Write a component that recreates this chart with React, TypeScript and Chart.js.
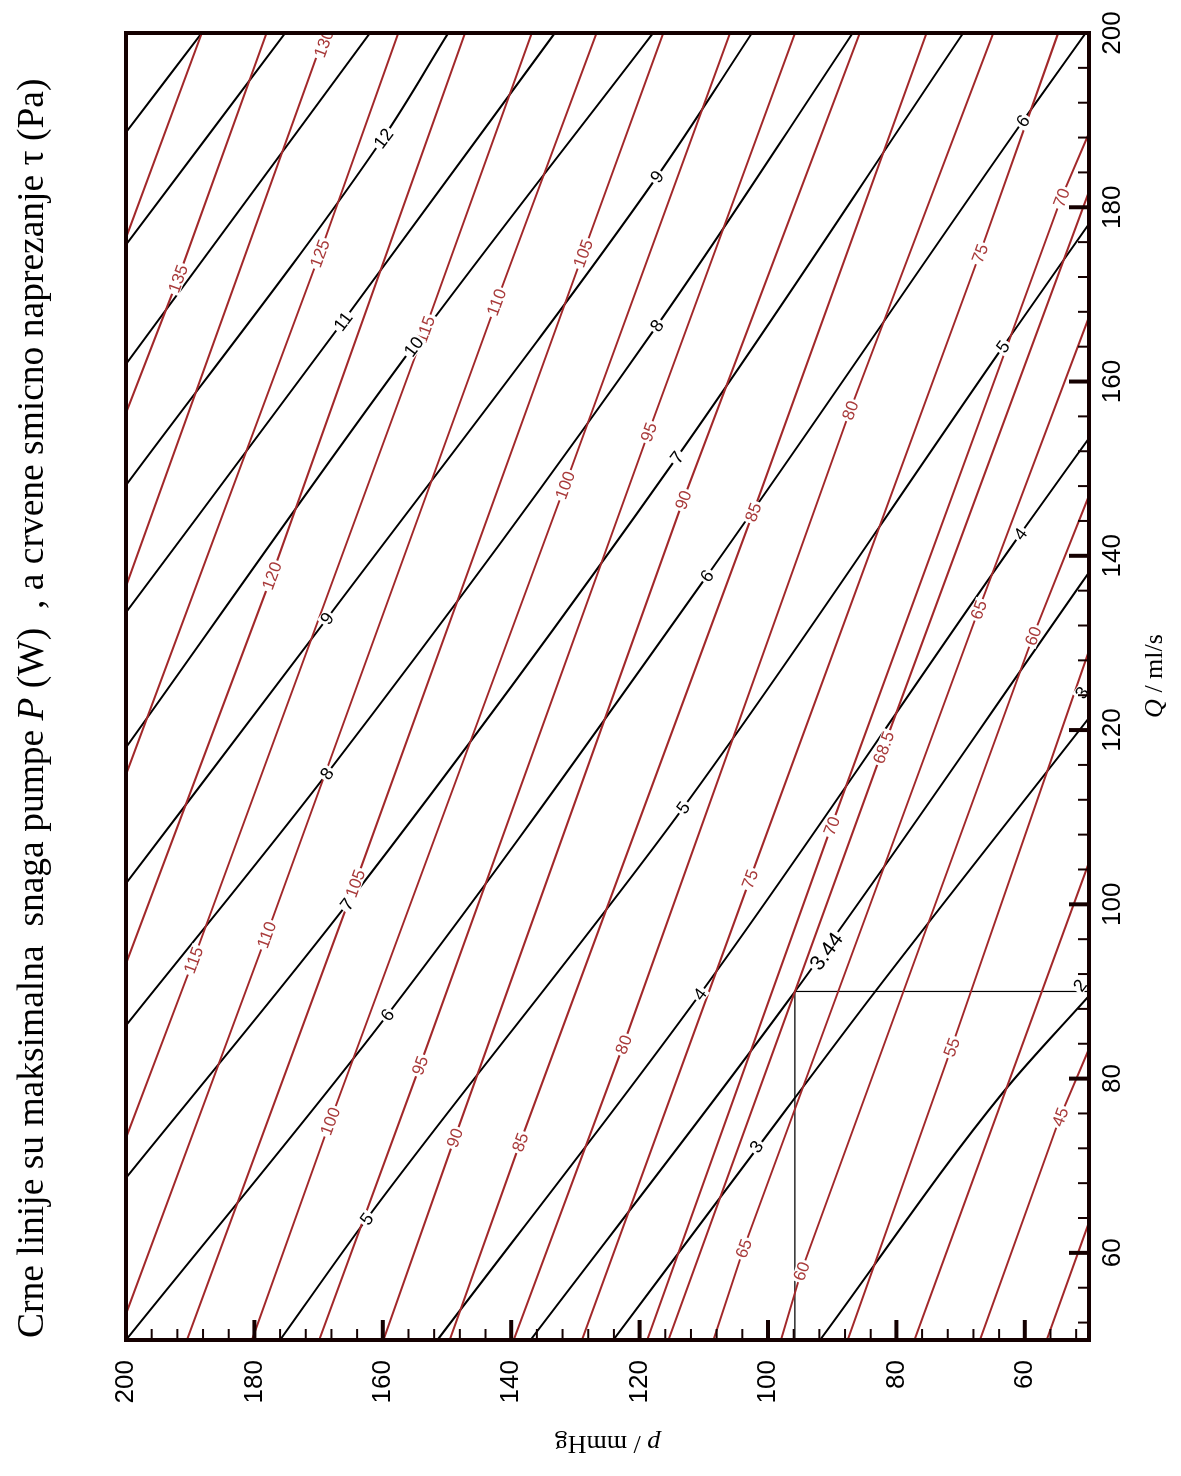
import React, { useEffect, useRef } from "react";
import { Chart, registerables } from "chart.js";

Chart.register(...registerables);

// Axis ticks (Q in ml/s on x, p in mmHg on y of the unrotated chart)
const qTicks = [60, 80, 100, 120, 140, 160, 180, 200];
const pTicks = [60, 80, 100, 120, 140, 160, 180, 200];
const minorTicks = [52, 56, 64, 68, 72, 76, 84, 88, 92, 96, 104, 108, 112, 116, 124, 128, 132, 136, 144, 148, 152, 156, 164, 168, 172, 176, 184, 188, 192, 196];

// Black contours: maximal pump power P (W); points are [Q, p]
const powerLevels = ["2", "3", "3.44", "4", "5", "6", "7", "8", "9", "10", "11", "12", "13", "14", "15"];
const powerLines: number[][][] = [
  [[50, 91.9], [78.5, 63.3], [89.5, 50]],
  [[50, 124.1], [72.2, 101.5], [90, 83.3], [121.4, 50]],
  [[50, 137], [90, 95.8], [138.1, 50]],
  [[50, 151.5], [89.7, 110.6], [142.5, 60.7], [153.5, 50]],
  [[50, 176], [63.9, 162.5], [111.1, 113.2], [164, 63.4], [178.1, 50]],
  [[50, 200], [87.3, 159.3], [137.7, 109.5], [189.9, 60.3], [200, 50.5]],
  [[68.6, 200], [100, 165.6], [151.3, 114.2], [200, 69.6]],
  [[86.1, 200], [115, 168.7], [166.4, 117.3], [200, 86.8]],
  [[102.4, 200], [132.8, 168.7], [183.5, 117.3], [200, 102.5]],
  [[118, 200], [164, 155.3], [200, 117.9]],
  [[133.5, 200], [166.9, 166.2], [200, 133.2]],
  [[148.1, 200], [187.9, 160], [200, 149.8]],
  [[162, 200], [200, 162]],
  [[175.7, 200], [200, 175.2]],
  [[188.6, 200], [200, 188.2]],
];

// Red contours: shear stress tau (Pa); points are [Q, p]
const shearLevels = ["40", "45", "50", "55", "60", "65", "68.5", "70", "75", "80", "85", "90", "95", "100", "105", "110", "115", "120", "125", "130", "135", "140"];
const shearLines: number[][][] = [
  [[50, 56.6], [63.5, 50]],
  [[50, 67.0], [75.6, 54.5], [83.4, 50]],
  [[50, 77.2], [104.8, 50]],
  [[50, 87.6], [83.6, 71.4], [129.1, 50]],
  [[50, 98.0], [57.9, 94.8], [130.8, 58.7], [146.9, 50]],
  [[50, 108.5], [60.5, 103.8], [133.8, 67.2], [167.4, 50]],
  [[50, 115.5], [118, 82], [181.8, 50]],
  [[50, 118.8], [109, 90.1], [181.1, 54.3], [188.5, 50]],
  [[50, 129.0], [102.9, 102.8], [174.7, 67], [200, 54.8]],
  [[50, 139.6], [83.9, 122.5], [156.7, 87.2], [200, 64.9]],
  [[50, 149.6], [72.7, 138.6], [145, 102.3], [200, 75.3]],
  [[50, 159.9], [73.2, 148.8], [146.4, 113.2], [200, 85.7]],
  [[50, 169.9], [81.5, 154.2], [154.2, 118.6], [200, 95.8]],
  [[50, 180.4], [75.1, 168.2], [148.1, 131.6], [200, 105.9]],
  [[50, 190.5], [102.4, 164.3], [174.7, 128.8], [200, 116.3]],
  [[53.0, 200], [96.5, 178.1], [169.1, 142.3], [200, 126.7]],
  [[73.2, 200], [93.6, 189.5], [166, 153.4], [200, 136.8]],
  [[93.2, 200], [137.7, 177.3], [200, 147.2]],
  [[114.9, 200], [174.7, 169.8], [200, 157.6]],
  [[136.5, 200], [200, 169]],
  [[156.4, 200], [171.8, 191.9], [200, 178.1]],
  [[176.5, 200], [200, 188.2]],
];

// Contour labels: [text, Q, p]
const powerLabels: [string, number, number][] = [
  ["12", 187.9, 159.9], ["11", 166.9, 166.2], ["10", 164, 155.2],
  ["9", 132.8, 168.7], ["9", 183.5, 117.3], ["8", 115, 168.7], ["8", 166.4, 117.3],
  ["7", 100, 165.6], ["7", 151.3, 114.2], ["6", 87.3, 159.3], ["6", 137.7, 109.5], ["6", 189.9, 60.3],
  ["5", 63.9, 162.5], ["5", 111.1, 113.2], ["5", 164, 63.4], ["4", 89.7, 110.6], ["4", 142.5, 60.7],
  ["3", 72.2, 101.8], ["3", 124.3, 51.1], ["2", 90.7, 51.4],
];
const markedPowerLabel: [string, number, number] = ["3.44", 94.6, 90.9];
const shearLabels: [string, number, number][] = [
  ["135", 171.8, 191.9], ["130", 198.8, 169.2], ["125", 174.7, 169.8], ["120", 137.7, 177.3],
  ["115", 166, 153.4], ["115", 93.6, 189.5], ["110", 169.1, 142.3], ["110", 96.5, 178.1],
  ["105", 174.7, 128.8], ["105", 102.4, 164.3], ["100", 148.1, 131.6], ["100", 75.1, 168.2],
  ["95", 154.2, 118.6], ["95", 81.5, 154.2], ["90", 146.4, 113.2], ["90", 73.2, 148.8],
  ["85", 145, 102.3], ["85", 72.7, 138.6], ["80", 156.7, 87.2], ["80", 83.9, 122.5],
  ["75", 174.7, 67], ["75", 102.9, 102.8], ["70", 181.1, 54.3], ["70", 109, 90.1],
  ["68.5", 118, 82], ["65", 133.8, 67.2], ["65", 60.5, 103.8], ["60", 130.8, 58.7], ["60", 57.9, 94.8],
  ["55", 83.6, 71.4], ["45", 75.6, 54.5],
];

// Operating point drop lines
const markerQ = [50, 90, 90];
const markerP = [95.8, 95.8, 50];

const SANS = '"Liberation Sans", Arial, sans-serif';
const SERIF = '"Liberation Serif", "Times New Roman", serif';
const RED = "#a2282a";
const RED_TEXT = "#a83a3a";

function drawMixed(ctx: CanvasRenderingContext2D, parts: [string, boolean][], x: number, y: number, size: number, align: "left" | "center") {
  const fontOf = (it: boolean) => `${it ? "italic " : ""}${size}px ${SERIF}`;
  let total = 0;
  for (const [t, it] of parts) { ctx.font = fontOf(it); total += ctx.measureText(t).width; }
  let cx = align === "center" ? x - total / 2 : x;
  ctx.textAlign = "left";
  ctx.textBaseline = "alphabetic";
  for (const [t, it] of parts) {
    ctx.font = fontOf(it);
    ctx.fillText(t, cx, y);
    cx += ctx.measureText(t).width;
  }
}

const overlayPlugin = {
  id: "overlay",
  afterDatasetsDraw(chart: any) {
    const { ctx, chartArea: a, scales } = chart;
    const xs = scales.x, ys = scales.y;
    ctx.save();
    ctx.beginPath();
    ctx.rect(a.left, a.top, a.right - a.left, a.bottom - a.top);
    ctx.clip();
    const drawLabel = (text: string, q: number, p: number, slope: number, color: string, size: number) => {
      const px = xs.getPixelForValue(q), py = ys.getPixelForValue(p);
      const dx = xs.getPixelForValue(q + 1) - px;
      const dy = ys.getPixelForValue(p + slope) - py;
      const ang = Math.atan2(dy, dx);
      ctx.save();
      ctx.translate(px, py);
      ctx.rotate(ang);
      ctx.font = `${size}px ${SANS}`;
      const w = ctx.measureText(text).width;
      ctx.fillStyle = "#ffffff";
      ctx.fillRect(-w / 2 - 2, -size * 0.4, w + 4, size * 0.8);
      ctx.fillStyle = color;
      ctx.textAlign = "center";
      ctx.textBaseline = "middle";
      ctx.fillText(text, 0, 1);
      ctx.restore();
    };
    for (const [t, q, p] of shearLabels) drawLabel(t, q, p, -0.5, RED_TEXT, 17);
    for (const [t, q, p] of powerLabels) drawLabel(t, q, p, -1, "#000", 18);
    drawLabel(markedPowerLabel[0], markedPowerLabel[1], markedPowerLabel[2], -1, "#000", 21);
    ctx.restore();
  },
  afterDraw(chart: any) {
    const { ctx, chartArea: a, scales } = chart;
    const xs = scales.x, ys = scales.y;
    ctx.save();
    // ticks (inward) on the p axis (left) and Q axis (bottom)
    ctx.strokeStyle = "#140000";
    ctx.lineCap = "butt";
    for (const v of minorTicks) {
      ctx.lineWidth = 2;
      const yp = ys.getPixelForValue(v);
      ctx.beginPath(); ctx.moveTo(a.left, yp); ctx.lineTo(a.left + 11, yp); ctx.stroke();
      const xp = xs.getPixelForValue(v);
      ctx.beginPath(); ctx.moveTo(xp, a.bottom); ctx.lineTo(xp, a.bottom - 11); ctx.stroke();
    }
    for (const v of pTicks) {
      ctx.lineWidth = 4;
      const yp = ys.getPixelForValue(v);
      ctx.beginPath(); ctx.moveTo(a.left, yp); ctx.lineTo(a.left + 20, yp); ctx.stroke();
    }
    for (const v of qTicks) {
      ctx.lineWidth = 4;
      const xp = xs.getPixelForValue(v);
      ctx.beginPath(); ctx.moveTo(xp, a.bottom); ctx.lineTo(xp, a.bottom - 20); ctx.stroke();
    }
    // frame
    ctx.lineWidth = 4;
    ctx.strokeRect(a.left, a.top, a.right - a.left, a.bottom - a.top);
    // titles
    ctx.fillStyle = "#000";
    drawMixed(ctx, [["Crne linije su maksimalna  snaga pumpe ", false], ["P", true], [" (W)  , a crvene smicno naprezanje \u03c4 (Pa)", false]], 138, 43, 37.5, "left");
    drawMixed(ctx, [["Q", true], [" / ml/s", false]], 800, 1162, 26, "center");
    ctx.save();
    ctx.translate(40, (a.top + a.bottom) / 2);
    ctx.rotate(-Math.PI / 2);
    drawMixed(ctx, [["p", true], [" / mmHg", false]], 0, 0, 26, "center");
    ctx.restore();
    ctx.restore();
  },
};

export default function App() {
  const ref = useRef<HTMLCanvasElement>(null);
  useEffect(() => {
    const canvas = ref.current;
    if (!canvas) return;
    const datasets: any[] = [];
    shearLines.forEach((line, i) => {
      datasets.push({
        label: "tau " + shearLevels[i],
        data: line.map(([q, p]) => ({ x: q, y: p })),
        showLine: true, pointRadius: 0, borderColor: RED, borderWidth: 2,
        tension: 0, clip: 0, order: 0,
      });
    });
    powerLines.forEach((line, i) => {
      datasets.push({
        label: "P " + powerLevels[i],
        data: line.map(([q, p]) => ({ x: q, y: p })),
        showLine: true, pointRadius: 0, borderColor: "#000", borderWidth: 2,
        cubicInterpolationMode: "monotone", clip: 0, order: 1,
      });
    });
    datasets.push({
      label: "marker",
      data: markerQ.map((q, i) => ({ x: q, y: markerP[i] })),
      showLine: true, pointRadius: 0, borderColor: "#000", borderWidth: 1.2, tension: 0, clip: 0, order: 2,
    });
    const chart = new Chart(canvas, {
      type: "scatter",
      data: { datasets },
      options: {
        responsive: false,
        maintainAspectRatio: false,
        devicePixelRatio: 1,
        animation: false,
        events: [],
        layout: { padding: { top: 126, right: 33, left: 0, bottom: 0 } },
        plugins: { legend: { display: false }, tooltip: { enabled: false }, title: { display: false } },
        scales: {
          x: {
            type: "linear", min: 50, max: 200,
            afterBuildTicks: (s: any) => { s.ticks = qTicks.map((v) => ({ value: v })); },
            afterFit: (s: any) => { s.height = 92; },
            grid: { display: false, drawTicks: false },
            border: { display: false },
            ticks: { padding: 8, color: "#000", font: { family: SANS, size: 26 }, maxRotation: 0, autoSkip: false },
          },
          y: {
            type: "linear", min: 50, max: 200,
            afterBuildTicks: (s: any) => { s.ticks = pTicks.map((v) => ({ value: v })); },
            afterFit: (s: any) => { s.width = 136; },
            grid: { display: false, drawTicks: false },
            border: { display: false },
            ticks: { padding: 20, color: "#000", font: { family: SANS, size: 26 }, autoSkip: false },
          },
        },
      } as any,
      plugins: [overlayPlugin],
    });
    return () => chart.destroy();
  }, []);
  return (
    <div style={{ position: "absolute", left: 0, top: 0, width: 1181, height: 1476, overflow: "hidden", background: "#fff" }}>
      <div style={{ position: "absolute", left: 0, top: 0, width: 1476, height: 1181, transformOrigin: "0 0", transform: "translateY(1476px) rotate(-90deg)" }}>
        <canvas ref={ref} width={1476} height={1181} style={{ width: 1476, height: 1181, display: "block" }} />
      </div>
    </div>
  );
}
